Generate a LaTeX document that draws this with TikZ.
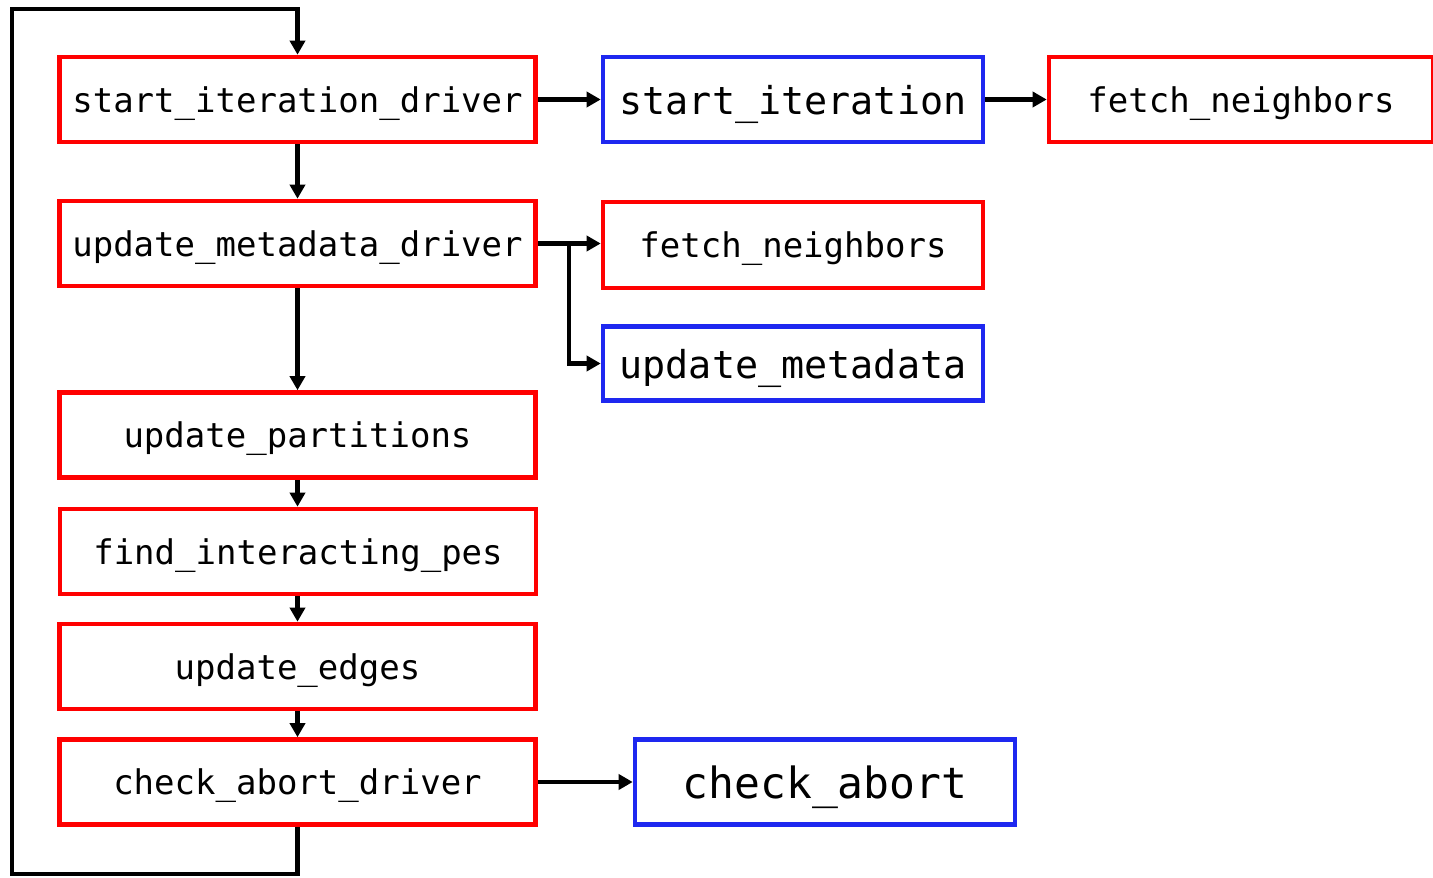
\documentclass[tikz,border=0pt]{standalone}
\usepackage{fontspec}
\newfontfamily\codefont{DejaVu Sans Mono}
\usetikzlibrary{arrows.meta}
\definecolor{bred}{RGB}{255,0,0}
\definecolor{bblue}{RGB}{30,40,240}
\begin{document}
\begin{tikzpicture}[x=0.5pt,y=-0.5pt,
  box/.style={draw, line width=2.3pt, minimum width=238pt, minimum height=42.5pt, inner sep=0pt, text depth=0pt, align=center, font=\codefont\fontsize{17}{20}\selectfont},
  rbox/.style={box, draw=bred},
  bbox/.style={box, draw=bblue},
  arr/.style={line width=2.2pt, -{Triangle[length=7pt,width=7.5pt]}},
  plain/.style={line width=2pt}]
\useasboundingbox (0,0) rectangle (1433,877);
\node[rbox] (sid) at (297.5,99.5) {start\_iteration\_driver};
\node[bbox, minimum width=190pt, font=\codefont\fontsize{19.2}{22}\selectfont] (si) at (793,99.5) {start\_iteration};
\node[rbox, minimum width=192pt] (fn1) at (1241,99.5) {fetch\_neighbors};
\node[rbox] (umd) at (297.5,243.5) {update\_metadata\_driver};
\node[rbox, minimum width=190pt, minimum height=43pt] (fn2) at (793,245) {fetch\_neighbors};
\node[bbox, minimum width=190pt, minimum height=37pt, font=\codefont\fontsize{19.2}{22}\selectfont] (um) at (793,363.5) {update\_metadata};
\node[rbox] (up) at (297.5,435) {update\_partitions};
\node[rbox] (fip) at (298,551.5) {find\_interacting\_pes};
\node[rbox] (ue) at (297.5,666.5) {update\_edges};
\node[rbox] (cad) at (297.5,782) {check\_abort\_driver};
\node[bbox, minimum width=190pt, font=\codefont\fontsize{21.5}{25}\selectfont] (ca) at (825,782) {check\_abort};
\coordinate (br) at (569,243);
\coordinate (l1) at (12,874);
\coordinate (l2) at (12,9);
\draw[arr] (sid) -- (si);
\draw[arr] (si) -- (fn1.west |- si);
\draw[arr] (sid) -- (umd);
\draw[arr] (umd.east) -- (umd.east -| fn2.west);
\draw[arr] (br) |- (um.west);
\draw[arr] (umd) -- (up);
\draw[arr] (up) -- (fip.north -| up);
\draw[arr] (fip.south -| up) -- (ue);
\draw[arr] (ue) -- (cad);
\draw[arr] (cad) -- (ca);
\draw[arr, line join=miter] (cad.south) |- (l1) -- (l2) -| (sid.north);
\end{tikzpicture}
\end{document}
